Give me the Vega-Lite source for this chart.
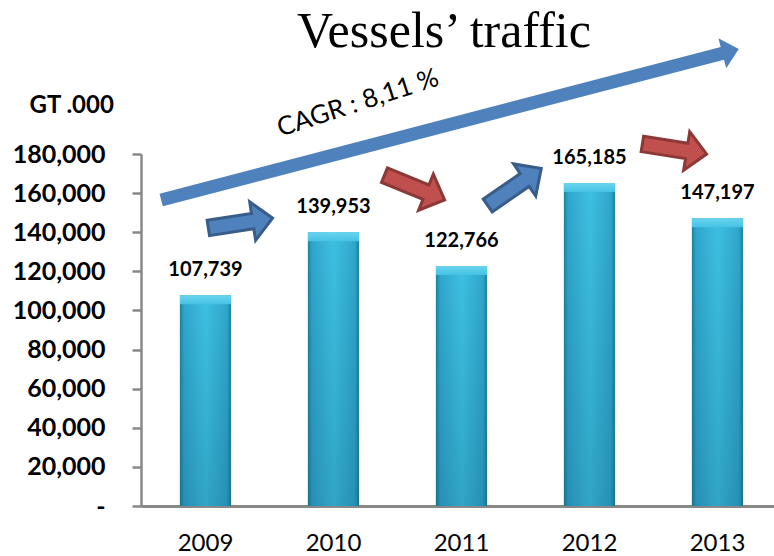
{
  "$schema": "https://vega.github.io/schema/vega-lite/v6.json",
  "autosize": "none",
  "width": 633,
  "height": 352,
  "padding": {"left": 141, "top": 154, "right": 0, "bottom": 50},
  "background": "white",
  "config": {"view": {"stroke": null}},
  "datasets": {
    "traffic": [
      {"year": "2009", "gt": 107739},
      {"year": "2010", "gt": 139953},
      {"year": "2011", "gt": 122766},
      {"year": "2012", "gt": 165185},
      {"year": "2013", "gt": 147197}
    ]
  },
  "layer": [
    {
      "data": {"name": "traffic"},
      "encoding": {
        "x": {
          "field": "year", "type": "ordinal",
          "scale": {"paddingInner": 0.6, "paddingOuter": 0.2727, "align": 0.557},
          "axis": {
            "title": null, "labelAngle": 0, "ticks": false,
            "domainColor": "#888888", "domainWidth": 3,
            "labelFont": "Lato", "labelFontSize": 24, "labelFontWeight": "normal",
            "labelColor": "black", "labelPadding": 25
          }
        },
        "y": {
          "field": "gt", "type": "quantitative",
          "scale": {"domain": [0, 180000], "nice": false},
          "axis": {
            "title": "GT .000",
            "titleAngle": 0, "titleX": -112, "titleY": -42,
            "titleAlign": "left", "titleBaseline": "alphabetic",
            "titleFont": "Lato", "titleFontSize": 24, "titleFontWeight": "bold", "titleColor": "black",
            "values": [0, 20000, 40000, 60000, 80000, 100000, 120000, 140000, 160000, 180000],
            "labelExpr": "datum.value == 0 ? '-' : format(datum.value, ',')",
            "labelOverlap": false,
            "grid": false,
            "domainColor": "#888888", "domainWidth": 2.5,
            "tickColor": "#888888", "tickWidth": 2.5, "tickSize": 9,
            "labelFont": "Lato", "labelFontSize": 25, "labelFontWeight": "bold",
            "labelColor": "black", "labelPadding": 27
          }
        }
      },
      "layer": [
        {
          "mark": {
            "type": "bar",
            "fill": {
              "gradient": "linear", "x1": 0, "y1": 0, "x2": 1, "y2": 0,
              "stops": [
                {"offset": 0, "color": "#1f7f9f"},
                {"offset": 0.08, "color": "#2ea7cc"},
                {"offset": 0.5, "color": "#3ec0e2"},
                {"offset": 0.92, "color": "#2ea7cc"},
                {"offset": 1, "color": "#1f7f9f"}
              ]
            }
          }
        },
        {
          "mark": {
            "type": "bar",
            "fill": {
              "gradient": "linear", "x1": 0, "y1": 0, "x2": 0, "y2": 1,
              "stops": [
                {"offset": 0, "color": "rgba(0,40,70,0)"},
                {"offset": 1, "color": "rgba(0,40,70,0.18)"}
              ]
            }
          }
        },
        {
          "mark": {
            "type": "tick", "size": 51, "thickness": 9, "yOffset": 4.5,
            "fill": {
              "gradient": "linear", "x1": 0, "y1": 0, "x2": 0, "y2": 1,
              "stops": [
                {"offset": 0, "color": "#6ad4ee"},
                {"offset": 1, "color": "#45c2e4"}
              ]
            },
            "opacity": 1
          }
        },
        {
          "mark": {"type": "text", "baseline": "alphabetic", "dy": -19, "font": "Lato", "fontSize": 20, "fontWeight": "bold", "color": "black"},
          "encoding": {
            "text": {"field": "gt", "type": "quantitative", "format": ","}
          }
        }
      ]
    },
    {
      "layer": [
        {
          "data": {"values": [{"pos": 2010.863, "val": 234716, "label": "Vessels’ traffic"}]},
          "mark": {"type": "text", "font": "Liberation Serif", "fontSize": 50, "color": "black", "align": "center", "baseline": "alphabetic"},
          "encoding": {
            "x": {"field": "pos", "type": "quantitative", "scale": {"domain": [2008.4961, 2013.4414], "nice": false, "zero": false}, "axis": null},
            "y": {"field": "val", "type": "quantitative", "axis": null},
            "text": {"field": "label"}
          }
        },
        {
          "data": {"values": [{"pos": 2010.910, "val": 195085}]},
          "mark": {
            "type": "point", "filled": true, "opacity": 1, "color": "#4f81bd", "size": 356409, "angle": -14.64,
            "shape": "M-1,-0.0218L0.943,-0.0218L0.943,-0.052L1,0L0.943,0.052L0.943,0.0218L-1,0.0218Z"
          },
          "encoding": {
            "x": {"field": "pos", "type": "quantitative", "scale": {"domain": [2008.4961, 2013.4414], "nice": false, "zero": false}, "axis": null},
            "y": {"field": "val", "type": "quantitative", "axis": null}
          }
        },
        {
          "data": {"values": [{"pos": 2010.191, "val": 206000, "label": "CAGR : 8,11 %"}]},
          "mark": {"type": "text", "angle": -18, "font": "Lato", "fontSize": 26, "color": "black", "align": "center", "baseline": "middle"},
          "encoding": {
            "x": {"field": "pos", "type": "quantitative", "scale": {"domain": [2008.4961, 2013.4414], "nice": false, "zero": false}, "axis": null},
            "y": {"field": "val", "type": "quantitative", "axis": null},
            "text": {"field": "label"}
          }
        },
        {
          "data": {"values": [{"pos": 2009.273, "val": 144716}]},
          "mark": {
            "type": "point", "filled": true, "opacity": 1, "fill": "#4f81bd", "stroke": "#385d8a", "strokeWidth": 3, "size": 4225, "angle": -8.75,
            "shape": "M-1,-0.24L0.38,-0.24L0.38,-0.6L1,0L0.38,0.6L0.38,0.24L-1,0.24Z"
          },
          "encoding": {
            "x": {"field": "pos", "type": "quantitative", "scale": {"domain": [2008.4961, 2013.4414], "nice": false, "zero": false}, "axis": null},
            "y": {"field": "val", "type": "quantitative", "axis": null}
          }
        },
        {
          "data": {"values": [{"pos": 2010.633, "val": 162869}]},
          "mark": {
            "type": "point", "filled": true, "opacity": 1, "fill": "#c0504d", "stroke": "#8c3836", "strokeWidth": 3, "size": 4225, "angle": 22.3,
            "shape": "M-1,-0.24L0.38,-0.24L0.38,-0.6L1,0L0.38,0.6L0.38,0.24L-1,0.24Z"
          },
          "encoding": {
            "x": {"field": "pos", "type": "quantitative", "scale": {"domain": [2008.4961, 2013.4414], "nice": false, "zero": false}, "axis": null},
            "y": {"field": "val", "type": "quantitative", "axis": null}
          }
        },
        {
          "data": {"values": [{"pos": 2011.414, "val": 163125}]},
          "mark": {
            "type": "point", "filled": true, "opacity": 1, "fill": "#4f81bd", "stroke": "#385d8a", "strokeWidth": 3, "size": 4225, "angle": -34.6,
            "shape": "M-1,-0.24L0.38,-0.24L0.38,-0.6L1,0L0.38,0.6L0.38,0.24L-1,0.24Z"
          },
          "encoding": {
            "x": {"field": "pos", "type": "quantitative", "scale": {"domain": [2008.4961, 2013.4414], "nice": false, "zero": false}, "axis": null},
            "y": {"field": "val", "type": "quantitative", "axis": null}
          }
        },
        {
          "data": {"values": [{"pos": 2012.664, "val": 182557}]},
          "mark": {
            "type": "point", "filled": true, "opacity": 1, "fill": "#c0504d", "stroke": "#8c3836", "strokeWidth": 3, "size": 4225, "angle": 9.0,
            "shape": "M-1,-0.24L0.38,-0.24L0.38,-0.6L1,0L0.38,0.6L0.38,0.24L-1,0.24Z"
          },
          "encoding": {
            "x": {"field": "pos", "type": "quantitative", "scale": {"domain": [2008.4961, 2013.4414], "nice": false, "zero": false}, "axis": null},
            "y": {"field": "val", "type": "quantitative", "axis": null}
          }
        }
      ]
    }
  ],
  "resolve": {"scale": {"x": "independent"}, "axis": {"x": "independent", "y": "independent"}}
}
